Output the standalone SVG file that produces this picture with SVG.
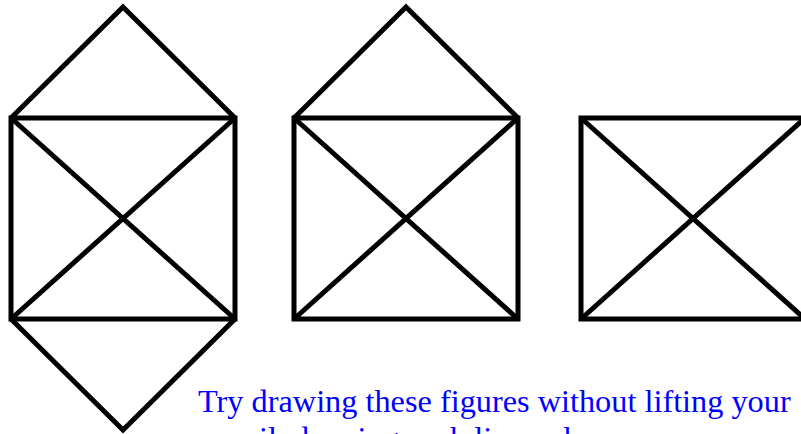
<svg xmlns="http://www.w3.org/2000/svg" width="801" height="434" viewBox="0 0 801 434">
<style>
.fig{fill:none;stroke:#000;stroke-width:5;stroke-linejoin:miter;stroke-linecap:butt}
.txt{font-family:"Liberation Serif","Times New Roman",serif;font-size:32.3px;fill:#0000ff}
</style>
<rect width="801" height="434" fill="#fff"/>
<g id="figure1" class="fig">
<polygon points="11,118 235,118 235,319 11,319"/>
<line x1="11" y1="118" x2="235" y2="319"/>
<line x1="235" y1="118" x2="11" y2="319"/>
<polyline points="11,118 123,7 235,118"/>
<polyline points="11,319 123,430 235,319"/>
</g>
<g id="figure2" class="fig">
<polygon points="294,118 518,118 518,319 294,319"/>
<line x1="294" y1="118" x2="518" y2="319"/>
<line x1="518" y1="118" x2="294" y2="319"/>
<polyline points="294,118 406,7 518,118"/>
</g>
<g id="figure3" class="fig">
<polygon points="581,118 805,118 805,319 581,319"/>
<line x1="581" y1="118" x2="805" y2="319"/>
<line x1="805" y1="118" x2="581" y2="319"/>
</g>
<g id="caption">
<text class="txt" x="198" y="412">Try drawing these figures without lifting your</text>
<text class="txt" x="198" y="449">pencil, drawing each line only once.</text>
</g>
</svg>
